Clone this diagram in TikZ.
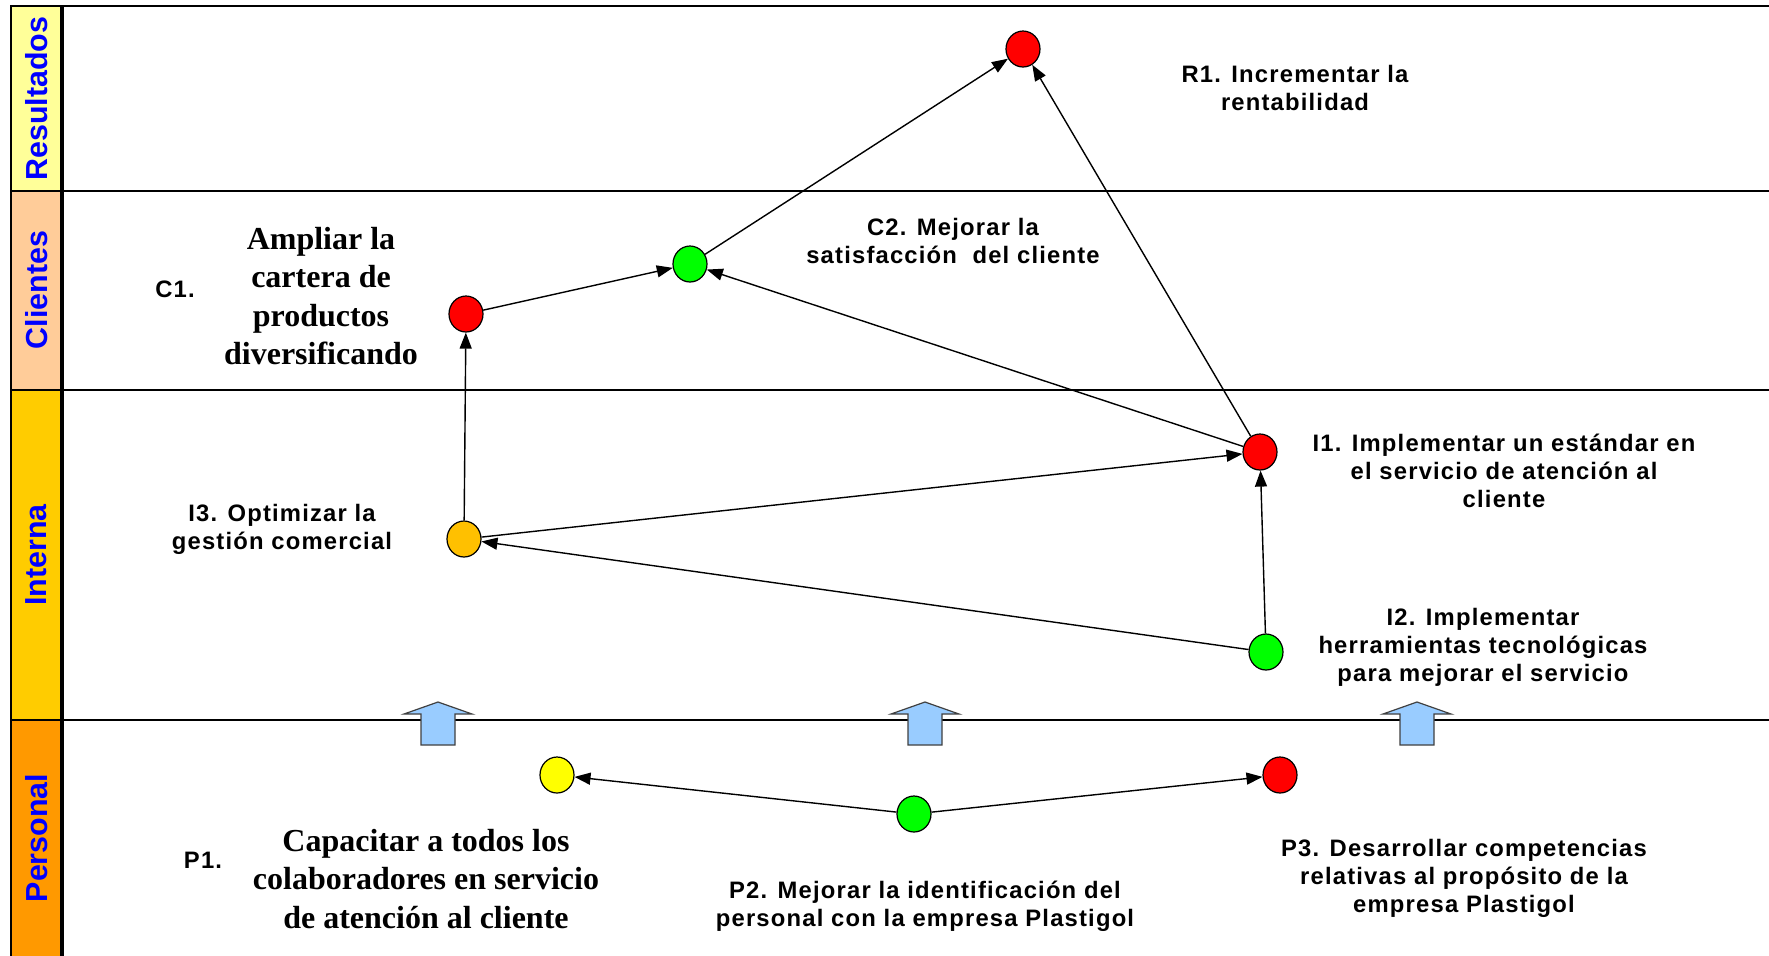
\documentclass[tikz,border=0pt]{standalone}
\usepackage{fontspec}
\setmainfont{Liberation Serif}
\newfontfamily\labfont{Liberation Sans}[LetterSpace=5]
\newfontfamily\lanefont{Liberation Sans}
\usetikzlibrary{shapes.geometric,arrows.meta}
\definecolor{cres}{HTML}{FFFF99}
\definecolor{ccli}{HTML}{FFCC99}
\definecolor{cint}{HTML}{FFCC00}
\definecolor{cper}{HTML}{FF9900}
\definecolor{lanetext}{HTML}{0000FF}
\definecolor{dred}{HTML}{FF0000}
\definecolor{dgreen}{HTML}{00FF00}
\definecolor{dyellow}{HTML}{FFFF00}
\definecolor{dorange}{HTML}{FFC000}
\definecolor{barrow}{HTML}{99CCFF}
\definecolor{barrowline}{HTML}{404040}
\begin{document}
\begin{tikzpicture}[x=0.5pt,y=-0.5pt,
  lanecell/.style={draw=black, line width=0.8pt},
  lanelabel/.style={rotate=90, text=lanetext, font=\lanefont\bfseries\fontsize{15.2}{18}\selectfont, inner sep=0pt},
  dot/.style={ellipse, draw=black, line width=0.6pt, minimum width=17pt, minimum height=18pt, inner sep=0pt},
  sanslab/.style={align=center, font=\labfont\bfseries\fontsize{11.9}{14}\selectfont, inner sep=0pt},
  seriflab/.style={align=center, font=\bfseries\fontsize{16}{19.2}\selectfont, inner sep=0pt},
  conn/.style={draw=black, line width=0.7pt, -{Triangle[length=8pt,width=6pt]}},
  uparrow/.style={fill=barrow, draw=barrowline, line width=0.6pt},
  sep/.style={draw=black, line width=0.7pt}
]
\useasboundingbox (0,0) rectangle (1769,955);
% lane label cells
\fill[cres] (11,6) rectangle (62,191);
\fill[ccli] (11,191) rectangle (62,390);
\fill[cint] (11,390) rectangle (62,720);
\fill[cper] (11,720) rectangle (62,960);
% separators
\draw[sep] (11,191) -- (1775,191);
\draw[sep] (11,390) -- (1775,390);
\draw[sep] (11,720) -- (1775,720);
% frame
\draw[line width=1.1pt] (11,962) -- (11,6) -- (1775,6);
\draw[line width=1.6pt] (62,6) -- (62,962);
% lane labels
\node[lanelabel] (lres) at (36.5,98.5) {Resultados};
\node[lanelabel] (lcli) at (36.5,290) {Clientes};
\node[lanelabel] (lint) at (36.5,555) {Interna};
\node[lanelabel] (lper) at (36.5,838) {Personal};
% blue up arrows
\foreach \cx in {438,925,1417}{
  \draw[uparrow] ({\cx-17},745) -- ({\cx-17},714) -- ({\cx-34},714) -- (\cx,702) -- ({\cx+34},714) -- ({\cx+17},714) -- ({\cx+17},745) -- cycle;
}
% objective dots
\node[dot, fill=dred] (R1) at (1023,49) {};
\node[dot, fill=dgreen] (C2) at (690,264) {};
\node[dot, fill=dred] (C1) at (466,314) {};
\node[dot, fill=dred] (I1) at (1260,452) {};
\node[dot, fill=dorange] (I3) at (464,539) {};
\node[dot, fill=dgreen] (I2) at (1266,652) {};
\node[dot, fill=dyellow] (P1) at (557,775) {};
\node[dot, fill=dgreen] (P2) at (914,814) {};
\node[dot, fill=dred] (P3) at (1280,775) {};
% connectors
\draw[conn] (C2) -- (R1);
\draw[conn] (I1) -- (R1);
\draw[conn] (C1) -- (C2);
\draw[conn] (I1) -- (C2);
\draw[conn] (I3) -- (C1);
\draw[conn] (I3) -- (I1);
\draw[conn] (I2) -- (I1);
\draw[conn] (I2) -- (I3);
\draw[conn] (P2) -- (P1);
\draw[conn] (P2) -- (P3);
% texts
\node[sanslab] (tR1) at (1295,88) {R1. Incrementar la\\rentabilidad};
\node[sanslab] (tC2) at (953,241) {C2. Mejorar la\\satisfacción\ \ del cliente};
\node[sanslab] (tC1a) at (175,289) {C1.};
\node[seriflab] (tC1b) at (321,296) {Ampliar la\\cartera de\\productos\\diversificando};
\node[sanslab] (tI1) at (1504,471) {I1. Implementar un estándar en\\el servicio de atención al\\cliente};
\node[sanslab] (tI3) at (282,529) {I3. Optimizar la\\gestión comercial};
\node[sanslab] (tI2) at (1483,647) {I2. Implementar\\herramientas tecnológicas\\para mejorar el servicio};
\node[sanslab] (tP1a) at (203,860) {P1.};
\node[seriflab] (tP1b) at (426,879) {Capacitar a todos los\\colaboradores en servicio\\de atención al cliente};
\node[sanslab] (tP2) at (925,906) {P2. Mejorar la identificación del\\personal con la empresa Plastigol};
\node[sanslab] (tP3) at (1464,878) {P3. Desarrollar competencias\\relativas al propósito de la\\empresa Plastigol};
\end{tikzpicture}
\end{document}
